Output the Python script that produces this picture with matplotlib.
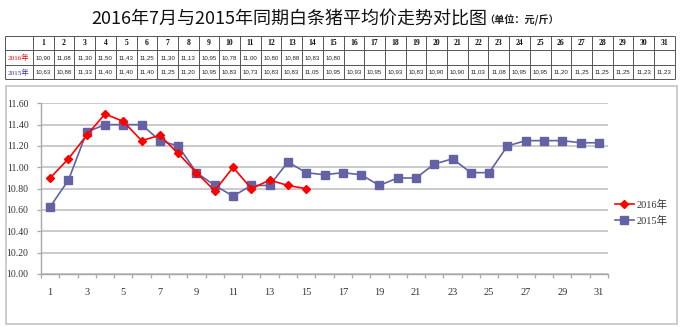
import matplotlib
matplotlib.use("Agg")
import matplotlib.pyplot as plt
from matplotlib.patches import Rectangle
from matplotlib.ticker import FixedLocator, FormatStrFormatter

# Daily average price of white-strip pork (yuan / jin)
days = list(range(1, 32))
price_2016 = [10.90, 11.08, 11.30, 11.50, 11.43, 11.25, 11.30, 11.13, 10.95, 10.78,
              11.00, 10.80, 10.88, 10.83, 10.80]
price_2015 = [10.63, 10.88, 11.33, 11.40, 11.40, 11.40, 11.25, 11.20, 10.95, 10.83,
              10.73, 10.83, 10.83, 11.05, 10.95, 10.93, 10.95, 10.93, 10.83, 10.90,
              10.90, 11.03, 11.08, 10.95, 10.95, 11.20, 11.25, 11.25, 11.25, 11.23,
              11.23]
series_names = ["2016年", "2015年"]
y_ticks = [10.00, 10.20, 10.40, 10.60, 10.80, 11.00, 11.20, 11.40, 11.60]
x_tick_labels = list(range(1, 32, 2))

W, H = 680, 327
RED = "#ff0000"
BLUE = "#6262a4"
CJK = ["Noto Sans CJK SC", "DejaVu Sans"]
SERIF_CJK = ["Liberation Serif", "Noto Sans CJK SC"]

fig = plt.figure(figsize=(W / 100, H / 100), dpi=100)
fig.patch.set_facecolor("white")

# overlay in pixel units for the frame, title and table
ov = fig.add_axes([0, 0, 1, 1])
ov.set_xlim(0, W)
ov.set_ylim(H, 0)
ov.axis("off")

# chart frame
ov.add_patch(Rectangle((5.5, 85.5), 671, 238, fill=False, ec="#c4c4c4", lw=1.2))

# title
ov.text(289, 25, "2016年7月与2015年同期白条猪平均价走势对比图", ha="center",
        va="baseline", fontsize=13, family=CJK, color="#111111")
ov.text(484, 24, "（单位：元/斤）", ha="left", va="baseline", fontsize=7.3,
        family=CJK, color="#222222", fontweight="bold")

# data table
t_left, t_top = 4.5, 35.5
first_w, col_w, row_h = 28.5, 20.7, 14.6
n_cols = len(days)
t_right = t_left + first_w + n_cols * col_w
t_bottom = t_top + 3 * row_h
for r in range(4):
    y = t_top + r * row_h
    ov.plot([t_left, t_right], [y, y], color="#555555", lw=0.7, solid_capstyle="butt")
xs = [t_left, t_left + first_w] + [t_left + first_w + (i + 1) * col_w for i in range(n_cols)]
for x in xs:
    ov.plot([x, x], [t_top, t_bottom], color="#555555", lw=0.7, solid_capstyle="butt")

def cell_x(i):
    return t_left + first_w + (i + 0.5) * col_w

for i, d in enumerate(days):
    ov.text(cell_x(i), t_top + row_h * 0.5, str(d), ha="center", va="center",
            fontsize=5.5, family="Liberation Serif", fontweight="bold", color="#111111")
row_vals = [price_2016, price_2015]
row_cols = [RED, "#3333aa"]
for r, (vals, name, c) in enumerate(zip(row_vals, series_names, row_cols)):
    yc = t_top + row_h * (r + 1.5)
    ov.text(t_left + first_w / 2, yc, name, ha="center", va="center",
            fontsize=5.2, family=SERIF_CJK, color=c)
    for i, v in enumerate(vals):
        ov.text(cell_x(i), yc, f"{v:.2f}".replace(".", ","), ha="center", va="center",
                fontsize=4.4, family="Liberation Sans", color="#222222")

# line chart
ax = fig.add_axes([41 / W, 1 - 274 / H, (608 - 41) / W, (274 - 103.3) / H])
ax.set_xlim(0.5, len(days) + 0.5)
ax.set_ylim(y_ticks[0], y_ticks[-1])
ax.set_yticks(y_ticks)
ax.yaxis.set_major_formatter(FormatStrFormatter("%.2f"))
ax.grid(axis="y", color="#bcbcbc", lw=1.1)
ax.set_axisbelow(True)
for s in ("top", "right"):
    ax.spines[s].set_visible(False)
for s in ("left", "bottom"):
    ax.spines[s].set_color("#a8a8a8")
    ax.spines[s].set_linewidth(1.0)

ax.plot(days[:len(price_2016)], price_2016, color=RED, lw=1.2, marker="D",
        markersize=4.2, markerfacecolor=RED, markeredgecolor=RED, label=series_names[0],
        zorder=4)
ax.plot(days, price_2015, color=BLUE, lw=1.2, marker="s", markersize=5.2,
        markerfacecolor=BLUE, markeredgecolor=BLUE, label=series_names[1], zorder=3)

ax.xaxis.set_major_locator(FixedLocator(x_tick_labels))
ax.set_xticklabels([str(v) for v in x_tick_labels])
ax.xaxis.set_minor_locator(FixedLocator([d + 0.5 for d in [0] + days]))
ax.tick_params(axis="x", which="major", length=0, pad=10, labelsize=7.5,
               labelcolor="#333333")
ax.tick_params(axis="x", which="minor", length=3, width=0.9, color="#a8a8a8",
               direction="out")
ax.tick_params(axis="y", length=3, width=0.9, color="#a8a8a8", pad=6, labelsize=7,
               labelcolor="#333333")
for lab in ax.get_xticklabels() + ax.get_yticklabels():
    lab.set_family("Liberation Serif")

leg = ax.legend(loc="center left", bbox_to_anchor=(1.005, 0.36), frameon=False,
                prop={"family": SERIF_CJK, "size": 7.5}, handlelength=1.8,
                handletextpad=0.3, labelspacing=0.55, borderaxespad=0)
for t in leg.get_texts():
    t.set_color("#333333")

fig.savefig("out.png", dpi=100, facecolor="white")
